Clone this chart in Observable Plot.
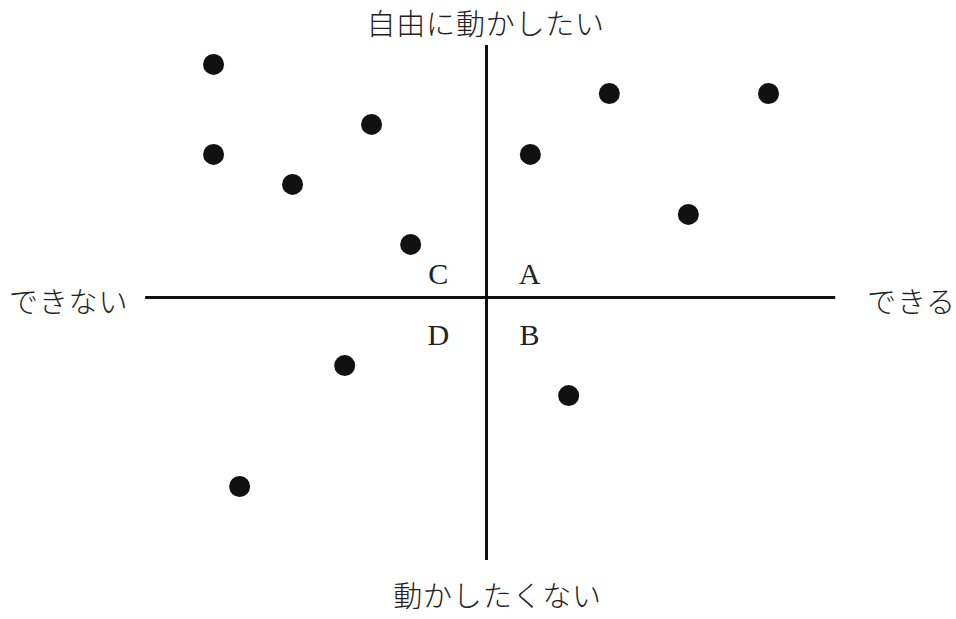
<!DOCTYPE html>
<html>
<head>
<meta charset="utf-8">
<script src="https://cdn.jsdelivr.net/npm/d3@7"></script>
<script src="https://cdn.jsdelivr.net/npm/@observablehq/plot@0.6"></script>
<style>
  html, body { margin: 0; padding: 0; background: #fff; }
  #chart svg { display: block; }
  #chart g.cjk text { letter-spacing: 0.8px; }
</style>
</head>
<body>
<div id="chart"></div>
<script>
// Point data (abstract units; 0,0 = axis crossing)
const xValues = [-6.91, 3.11, 7.14, -2.91, -6.91, 1.11, -4.91, 5.11, -1.92, -3.59, 2.08, -6.25];
const yValues = [7.77, 6.8, 6.8, 5.77, 4.77, 4.77, 3.77, 2.77, 1.77, -2.27, -3.27, -6.3];

// Axis labels
const axisLabels = ["自由に動かしたい", "動かしたくない", "できない", "できる"];
const axisLabelX = [-0.02, 0.28, -10.58, 10.76];
const axisLabelY = [9.07, -10.02, -0.2, -0.2];

// Quadrant labels
const quadLabels = ["C", "A", "D", "B"];
const quadX = [-1.22, 1.09, -1.22, 1.09];
const quadY = [0.77, 0.77, -1.27, -1.27];

const points = xValues.map((x, i) => ({x, y: yValues[i]}));
const axes = axisLabels.map((t, i) => ({t, x: axisLabelX[i], y: axisLabelY[i]}));
const quads = quadLabels.map((t, i) => ({t, x: quadX[i], y: quadY[i]}));

const chart = Plot.plot({
  width: 956,
  height: 619,
  margin: 0,
  x: {domain: [-12.304, 11.899], range: [0, 956], axis: null},
  y: {domain: [-10.733, 9.9], range: [619, 0], axis: null},
  style: {background: "#fff"},
  marks: [
    Plot.ruleY([0], {x1: -8.63, x2: 8.84, stroke: "#111", strokeWidth: 3}),
    Plot.ruleX([0], {y1: -8.77, y2: 8.4, stroke: "#111", strokeWidth: 3}),
    Plot.dot(points, {x: "x", y: "y", r: 10.5, fill: "#111", stroke: "none"}),
    Plot.text(axes, {x: "x", y: "y", text: "t", fontSize: 29, fill: "#222", className: "cjk",
      fontFamily: "'Noto Sans CJK JP', sans-serif", fontWeight: 300, textAnchor: "middle", lineAnchor: "middle"}),
    Plot.text(quads, {x: "x", y: "y", text: "t", fontSize: 30, fill: "#222",
      fontFamily: "'Liberation Serif', serif", textAnchor: "middle", lineAnchor: "middle"})
  ]
});
document.getElementById("chart").appendChild(chart);
</script>
</body>
</html>
